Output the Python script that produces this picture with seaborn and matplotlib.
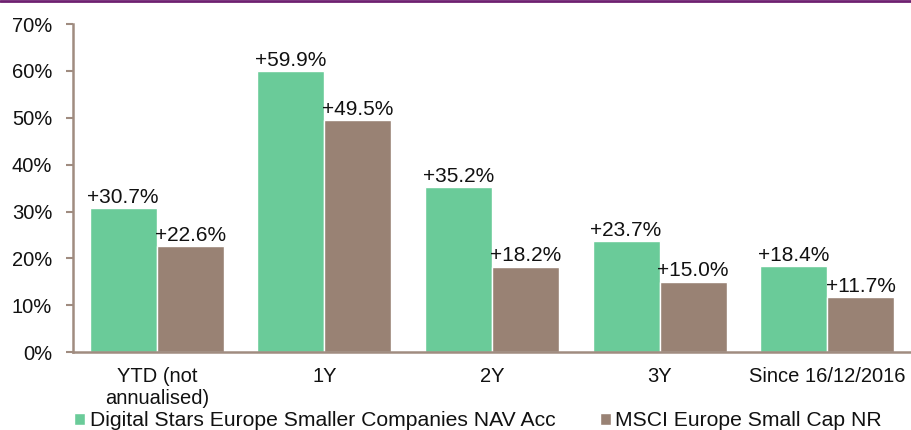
import pandas as pd
import matplotlib
matplotlib.use('Agg')
import matplotlib.pyplot as plt
from matplotlib.lines import Line2D
from matplotlib.patches import Patch
import seaborn as sns

# data
periods = ['YTD (not\nannualised)', '1Y', '2Y', '3Y', 'Since 16/12/2016']
fund_name = 'Digital Stars Europe Smaller Companies NAV Acc'
index_name = 'MSCI Europe Small Cap NR'
fund_values = [30.7, 59.9, 35.2, 23.7, 18.4]
index_values = [22.6, 49.5, 18.2, 15.0, 11.7]

green = '#6ACB99'
brown = '#998274'
axis_col = '#A08C80'
fs = 14.5

df = pd.DataFrame({
    'Period': periods * 2,
    'Series': [fund_name] * 5 + [index_name] * 5,
    'Return': fund_values + index_values,
})

sns.set_style('white')
plt.rcParams['font.family'] = ['Liberation Sans', 'DejaVu Sans']

fig = plt.figure(figsize=(9.12, 4.3), dpi=100)
ax = fig.add_axes([0.080, 0.181, 0.919, 0.763])

sns.barplot(data=df, x='Period', y='Return', hue='Series', order=periods,
            hue_order=[fund_name, index_name], palette=[green, brown],
            width=0.8, saturation=1, ax=ax, legend=False)

for cont, vals in zip(ax.containers, [fund_values, index_values]):
    ax.bar_label(cont, labels=[f'+{v:.1f}%' for v in vals], padding=1,
                 fontsize=fs + 0.5, color='#111111')

ax.set_xlim(-0.5, 4.5)
ax.set_ylim(0, 70)
ax.set_yticks(range(0, 71, 10))
ax.set_yticklabels([f'{t}%' for t in range(0, 71, 10)], fontsize=fs, color='#111111')
ax.set_xticks(range(5))
ax.set_xticklabels(periods, fontsize=fs, color='#111111')
ax.set_xticks([i - 0.5 for i in range(6)], minor=True)
ax.tick_params(axis='x', which='major', length=0, pad=11)
ax.tick_params(axis='x', which='minor', length=5, width=1.5, color=axis_col, direction='out')
ax.tick_params(axis='y', length=5, width=1.5, color=axis_col, direction='out', left=True, pad=10)
ax.set_xlabel('')
ax.set_ylabel('')

for s in ['top', 'right']:
    ax.spines[s].set_visible(False)
for s in ['left', 'bottom']:
    ax.spines[s].set_color(axis_col)
    ax.spines[s].set_linewidth(1.8)

# purple rule along the top
fig.add_artist(Line2D([0, 1], [0.997, 0.997], color='#6E2070', lw=2,
                      transform=fig.transFigure))

handles = [Patch(facecolor=green), Patch(facecolor=brown)]
fig.legend(handles, [fund_name, index_name], loc='lower left',
           bbox_to_anchor=(0.060, -0.045), ncol=2, frameon=False,
           fontsize=15.2, handlelength=0.55, handleheight=0.55,
           handletextpad=0.2, columnspacing=2.1, labelcolor='#111111')

fig.savefig('out.png', dpi=100)
